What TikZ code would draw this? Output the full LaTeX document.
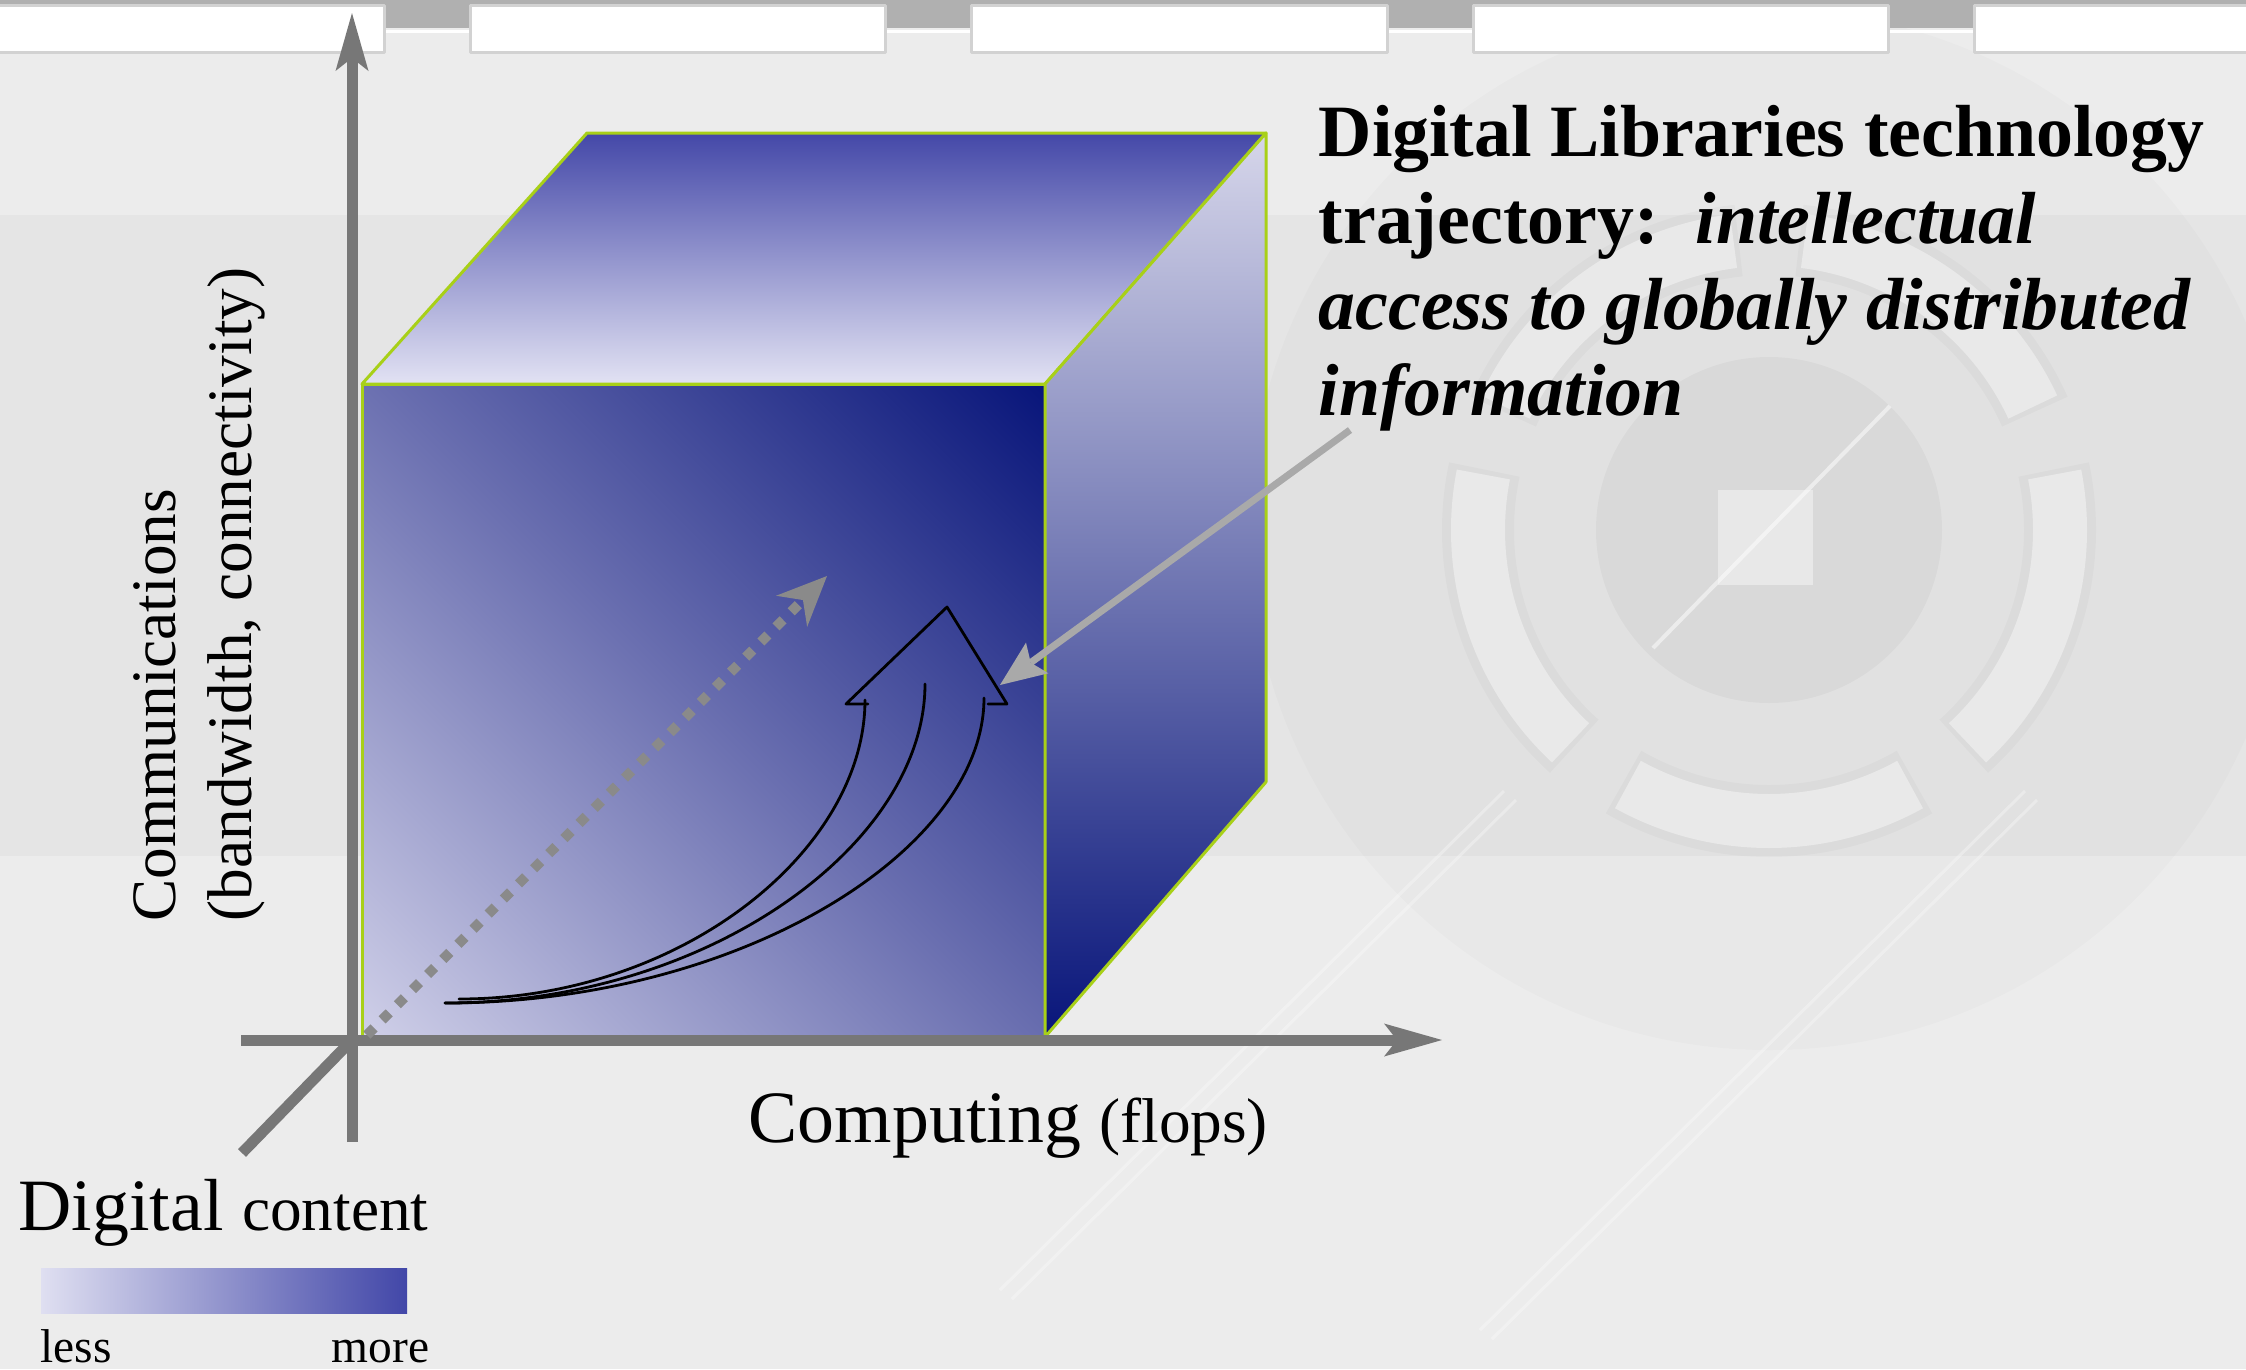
\documentclass[tikz,border=0pt]{standalone}
\usepackage{fontspec}
\setmainfont{Liberation Serif}
\usetikzlibrary{arrows.meta}
\definecolor{bgbase}{HTML}{ECECEC}
\definecolor{bgband}{HTML}{E5E5E5}
\definecolor{tabgray}{HTML}{B0B0B0}
\definecolor{tabedge}{HTML}{D2D2D2}
\definecolor{axisgray}{HTML}{777777}
\definecolor{dotgray}{HTML}{8A8A8A}
\definecolor{callgray}{HTML}{A9A9A9}
\definecolor{edgegreen}{HTML}{A8D018}
\definecolor{navy}{HTML}{08157A}
\definecolor{frontmid}{HTML}{6A6FB0}
\definecolor{frontlight}{HTML}{CFCFE8}
\definecolor{toplight}{HTML}{E2E2F3}
\definecolor{topdark}{HTML}{4448A8}
\definecolor{sidelight}{HTML}{D6D6EA}
\definecolor{barlight}{HTML}{DFDFF1}
\definecolor{bardark}{HTML}{4247A8}
% diagonal ramp that reaches its end colours exactly at the corners
\pgfdeclareverticalshading{frontramp}{100bp}{color(0bp)=(frontlight); color(14.6bp)=(frontlight);
	color(50bp)=(frontmid); color(85.4bp)=(navy); color(100bp)=(navy)}

\begin{document}
\begin{tikzpicture}[x=0.1mm, y=-0.1mm, line join=round,
	>={Stealth[length=5.8mm, width=3.3mm, inset=1.3mm, line width=0pt]},
	axisline/.style={draw=axisgray, line width=1.1mm},
	face/.style={draw=edgegreen, line width=0.3mm},
	trail/.style={line width=0.28mm, line cap=round}]
	\useasboundingbox (0,0) rectangle (2246,1369);
	% background
	\fill[bgbase] (0,0) rectangle (2246,1369);
	\fill[bgband] (0,215) rectangle (2246,856);
	\fill[black, opacity=0.015] (1769,530) circle (52mm);
	\fill[black, opacity=0.03] (1769,530) circle (17.3mm);
	\draw[white, opacity=0.5, line width=0.4mm] (1890,406) -- (1653,648);
	\fill[white, opacity=0.4] (1718,490) rectangle (1813,585);
	\foreach \a in {24,96,168,240,312}
	{
		\draw[black, opacity=0.025, line width=7.2mm] (1769,530) ++(\a:29.1mm) arc[start angle=\a, end angle=\a+60, radius=29.1mm];
		\draw[white, opacity=0.4, line width=5.4mm] (1769,530) ++(\a+1:29.1mm) arc[start angle=\a+1, end angle=\a+59, radius=29.1mm];
	}
	\draw[white, opacity=0.3, line width=0.3mm] (1504,791) -- (1000,1290) (1516,800) -- (1012,1299)
	(2025,791) -- (1480,1330) (2037,800) -- (1492,1339);
	% top bar
	\fill[tabgray] (0,0) rectangle (2246,28);
	\draw[white, line width=0.3mm] (0,31) -- (2246,31);
	\filldraw[fill=white, draw=tabedge, line width=0.3mm] (-10,5) rectangle (384,52)
	(470,5) rectangle (885,52)
	(971,5) rectangle (1387,52)
	(1473,5) rectangle (1888,52)
	(1974,5) rectangle (2256,52);
	% cube
	\coordinate (A) at (362,1037);
	\coordinate (B) at (1045,1037);
	\coordinate (C) at (1045,384);
	\coordinate (D) at (362,384);
	\coordinate (E) at (587,133);
	\coordinate (F) at (1266,133);
	\coordinate (G) at (1266,782);
	\draw[face, shade, shading=frontramp, shading angle=-45] (A) -- (B) -- (C) -- (D) -- cycle;
	\draw[face, top color=topdark, bottom color=toplight] (D) -- (C) -- (F) -- (E) -- cycle;
	\draw[face, top color=sidelight, bottom color=navy] (C) -- (F) -- (G) -- (B) -- cycle;
	% axes
	\coordinate (O) at (352,1040);
	\draw[axisline, ->] (352,1142) -- (352,13);
	\draw[axisline, ->] (241,1040) -- (1442,1040);
	\draw[axisline] (242,1153) -- (O);
	\draw[dotgray, line width=1mm, dash pattern=on 1mm off 1.14mm,
	-{Stealth[length=5mm, width=4.4mm, inset=1.6mm, line width=0pt]}] (367,1035) -- (827,576);
	% trajectory arrow
	\draw[trail] (868,704) -- (846,704) -- (947,607) -- (1007,704) -- (988,704);
	\draw[trail] (459,999) .. controls (682,999) and (865,850) .. (865,700);
	\draw[trail] (445,1003) .. controls (709,1003) and (925,844) .. (925,684);
	\draw[trail] (445,1003) .. controls (741,1003) and (984,850) .. (984,698);
	% labels
	\node[anchor=north west, align=left, inner sep=0, font=\fontsize{21}{24.5}\selectfont\bfseries] (traj) at (1318,105)
	{Digital Libraries technology\\ trajectory:\ \ \textit{intellectual}\\ \textit{access to globally distributed}\\ \textit{information}};
	\coordinate (callout) at (1350,430);
	\coordinate (tip) at (1000,685);
	\draw[callgray, line width=0.7mm, -{Stealth[length=4.6mm, width=3.8mm, inset=0.8mm, line width=0pt]}] (callout) -- (tip);
	\node[rotate=90, anchor=south west, align=left, inner sep=0, font=\fontsize{18}{21.6}\selectfont] (comm) at (266,922)
	{Communications\\(bandwidth, connectivity)};
	\node[anchor=base west, inner sep=0] (comp) at (748,1142)
	{\fontsize{21}{25}\selectfont Computing \fontsize{18}{22}\selectfont(flops)};
	\node[anchor=base west, inner sep=0] (content) at (18,1230)
	{\fontsize{21}{25}\selectfont Digital \fontsize{18}{22}\selectfont content};
	\fill[left color=barlight, right color=bardark] (41,1268) rectangle (407,1313);
	\node[anchor=base west, inner sep=0, font=\fontsize{13.5}{16}\selectfont] (less) at (40,1362) {less};
	\node[anchor=base east, inner sep=0, font=\fontsize{13.5}{16}\selectfont] (more) at (430,1362) {more};
\end{tikzpicture}
\end{document}
